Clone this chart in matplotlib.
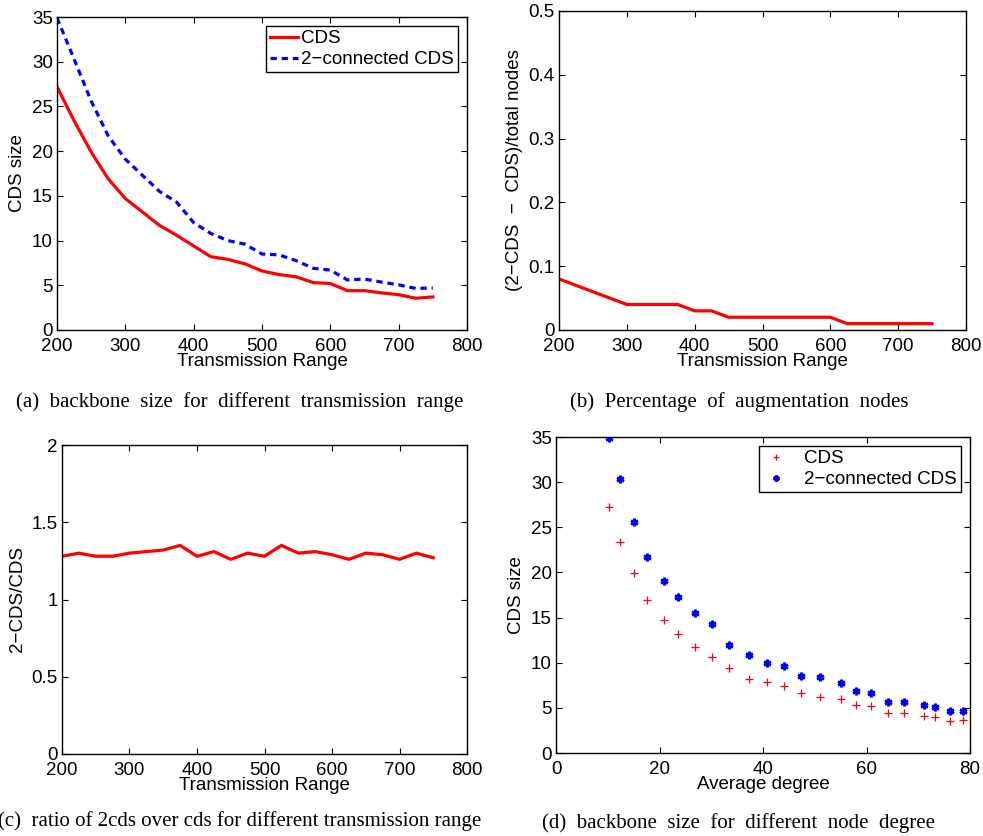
import numpy as np
import matplotlib
matplotlib.use('Agg')
import matplotlib.pyplot as plt

plt.rcParams['font.family'] = ['Liberation Sans', 'DejaVu Sans']
plt.rcParams['font.size'] = 13.5

# Data
tx_range = [200, 225, 250, 275, 300, 325, 350, 375, 400, 425, 450, 475,
            500, 525, 550, 575, 600, 625, 650, 675, 700, 725, 750]
cds_size = [27.2, 23.4, 19.9, 16.9, 14.7, 13.2, 11.7, 10.6, 9.4, 8.2, 7.9, 7.4,
            6.6, 6.2, 5.95, 5.3, 5.2, 4.4, 4.4, 4.15, 3.95, 3.55, 3.7]
cds2_size = [34.9, 30.3, 25.6, 21.7, 19.1, 17.3, 15.5, 14.3, 12.0, 10.8, 10.0, 9.6,
             8.5, 8.4, 7.75, 6.9, 6.7, 5.6, 5.7, 5.35, 5.05, 4.65, 4.7]
aug_frac = [0.08, 0.07, 0.06, 0.05, 0.04, 0.04, 0.04, 0.04, 0.03, 0.03, 0.02, 0.02,
            0.02, 0.02, 0.02, 0.02, 0.02, 0.01, 0.01, 0.01, 0.01, 0.01, 0.01]
ratio = [1.28, 1.30, 1.28, 1.28, 1.30, 1.31, 1.32, 1.35, 1.28, 1.31, 1.26, 1.30,
         1.28, 1.35, 1.30, 1.31, 1.29, 1.26, 1.30, 1.29, 1.26, 1.30, 1.27]
avg_degree = [10.2, 12.3, 15.0, 17.6, 20.8, 23.6, 26.8, 30.1, 33.5, 37.3, 40.7, 44.1,
              47.4, 51.0, 55.0, 58.0, 60.9, 64.2, 67.2, 71.2, 73.2, 76.1, 78.7]

W, H = 983, 836
fig = plt.figure(figsize=(W / 100, H / 100), dpi=100)


def axes_px(left, top, right, bottom):
    return fig.add_axes([left / W, 1 - bottom / H, (right - left) / W, (bottom - top) / H])


def matlab_style(ax):
    ax.tick_params(direction='in', top=True, right=True, length=4, width=0.8, pad=3)
    ax.tick_params(axis='x', pad=5.5)
    for s in ax.spines.values():
        s.set_linewidth(1.0)


cap_font = dict(family=['Liberation Serif', 'DejaVu Serif'], fontsize=15, ha='center', va='center')

# (a)
ax1 = axes_px(57, 17, 467, 330)
ax1.plot(tx_range, cds_size, color='red', lw=2.3, label='CDS')
ax1.plot(tx_range, cds2_size, color='blue', lw=2.3, ls=(0, (2.0, 1.5)), label='2\u2212connected CDS')
ax1.set_xlim(200, 800)
ax1.set_ylim(0, 35)
ax1.set_xticks(range(200, 801, 100))
ax1.set_yticks(range(0, 36, 5))
ax1.set_xlabel('Transmission Range', labelpad=-1)
ax1.set_ylabel('CDS size', labelpad=4)
leg = ax1.legend(loc='upper right', fancybox=False, framealpha=1, edgecolor='black',
                 handlelength=1.5, handletextpad=0.15, borderpad=0.2, labelspacing=0.2,
                 borderaxespad=0.5)
leg.get_frame().set_linewidth(1.0)
matlab_style(ax1)
fig.text(240 / W, 1 - 402 / H, '(a)  backbone  size  for  different  transmission  range', **cap_font)

# (b)
ax2 = axes_px(559, 11, 966, 330)
ax2.plot(tx_range, aug_frac, color='red', lw=2.3)
ax2.set_xlim(200, 800)
ax2.set_ylim(0, 0.5)
ax2.set_xticks(range(200, 801, 100))
ax2.set_yticks([0, 0.1, 0.2, 0.3, 0.4, 0.5])
ax2.set_yticklabels(['0', '0.1', '0.2', '0.3', '0.4', '0.5'])
ax2.set_xlabel('Transmission Range', labelpad=-1)
ax2.set_ylabel('(2\u2212CDS  \u2212  CDS)/total nodes', labelpad=4)
matlab_style(ax2)
fig.text(739 / W, 1 - 402 / H, '(b)  Percentage  of  augmentation  nodes', **cap_font)

# (c)
ax3 = axes_px(62, 445, 467, 754)
ax3.plot(tx_range, ratio, color='red', lw=2.3)
ax3.set_xlim(200, 800)
ax3.set_ylim(0, 2)
ax3.set_xticks(range(200, 801, 100))
ax3.set_yticks([0, 0.5, 1, 1.5, 2])
ax3.set_yticklabels(['0', '0.5', '1', '1.5', '2'])
ax3.set_xlabel('Transmission Range', labelpad=-1)
ax3.set_ylabel('2\u2212CDS/CDS', labelpad=4)
matlab_style(ax3)
fig.text(240 / W, 1 - 821 / H, '(c)  ratio of 2cds over cds for different transmission range', **cap_font)

# (d)
ax4 = axes_px(556, 437, 970, 753)
ax4.plot(avg_degree, cds_size, ls='none', marker='+', color='red', ms=6, mew=0.9, label='CDS')
ax4.plot(avg_degree, cds2_size, ls='none', marker=(6, 2, 0), color='blue', ms=5.5, mew=1.8,
         label='2\u2212connected CDS')
ax4.set_xlim(0, 80)
ax4.set_ylim(0, 35)
ax4.set_xticks(range(0, 81, 20))
ax4.set_yticks(range(0, 36, 5))
ax4.set_xlabel('Average degree', labelpad=-1)
ax4.set_ylabel('CDS size', labelpad=4)
leg = ax4.legend(loc='upper right', fancybox=False, framealpha=1, edgecolor='black',
                 handlelength=1.4, handletextpad=0.8, borderpad=0.2, labelspacing=0.2,
                 borderaxespad=0.5, markerscale=0.8)
leg.get_frame().set_linewidth(1.0)
matlab_style(ax4)
fig.text(739 / W, 1 - 823 / H, '(d)  backbone  size  for  different  node  degree', **cap_font)

fig.savefig('out.png', dpi=100)
